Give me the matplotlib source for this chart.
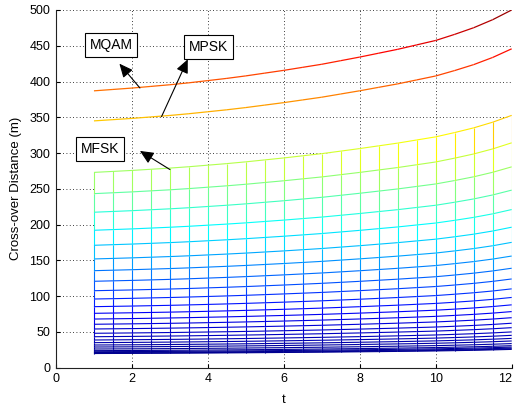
import matplotlib
matplotlib.use("Agg")
import matplotlib.pyplot as plt
import numpy as np
from matplotlib.collections import LineCollection
from matplotlib.colors import Normalize, LinearSegmentedColormap

plt.rcParams['font.family'] = ['Liberation Sans', 'DejaVu Sans']

# --- data ---
t = [1, 1.5, 2, 2.5, 3, 3.5, 4, 4.5, 5, 5.5, 6, 6.5,
     7, 7.5, 8, 8.5, 9, 9.5, 10, 10.5, 11, 11.5, 12]
# relative growth of the distance with t (same for all schemes)
growth = [1.000, 1.005, 1.010, 1.016, 1.022, 1.029, 1.037, 1.045, 1.054,
          1.064, 1.074, 1.085, 1.096, 1.109, 1.122, 1.136, 1.150, 1.166,
          1.182, 1.204, 1.228, 1.257, 1.292]
mqam_t1 = 387.0
mpsk_t1 = 345.0
# MFSK mesh rows, value at t = 1 (top to bottom)
mfsk_t1 = [273.0, 243.3, 217.3, 192.1, 171.1, 152.0, 135.6, 120.8, 107.6,
           96.0, 85.3, 76.0, 68.0, 60.7, 54.1, 48.1, 43.3, 38.7, 35.0,
           31.7, 28.9, 26.1, 23.8, 22.3, 21.2, 20.4, 19.8]

tt = np.array(t)
gg = np.array(growth)
mqam = mqam_t1 * gg
mpsk = mpsk_t1 * gg
Z = np.outer(mfsk_t1, gg)

# matlab flavoured jet
cmap = LinearSegmentedColormap.from_list('mjet', [
    (0.0, (0, 0, 0.56)), (0.125, (0, 0, 1)), (0.375, (0, 1, 1)),
    (0.625, (1, 1, 0)), (0.875, (1, 0, 0)), (1.0, (0.5, 0, 0))])
norm = Normalize(vmin=Z.min(), vmax=500)

fig = plt.figure(figsize=(5.16, 4.08), dpi=100)
ax = fig.add_axes([0.1085, 0.0988, 0.8831, 0.8767])

# grid first (dotted, matlab style)
ax.set_axisbelow(True)
ax.grid(True, color='black', linestyle=(0, (1, 3)), linewidth=0.6)

# white faces of the mesh hide the grid
ax.fill_between(tt, Z[-1], Z[0], color='white', zorder=1.5, lw=0)

segs, vals = [], []
for i in range(Z.shape[0]):
    for j in range(len(tt) - 1):
        segs.append([(tt[j], Z[i, j]), (tt[j + 1], Z[i, j + 1])])
        vals.append(Z[i, j])
for j in range(len(tt)):
    for i in range(Z.shape[0] - 1):
        segs.append([(tt[j], Z[i, j]), (tt[j], Z[i + 1, j])])
        vals.append(Z[i, j])
lc = LineCollection(segs, colors=cmap(norm(np.array(vals))), linewidths=0.8, zorder=2)
ax.add_collection(lc)

for curve in (mqam, mpsk):
    s = [[(tt[j], curve[j]), (tt[j + 1], curve[j + 1])] for j in range(len(tt) - 1)]
    ax.add_collection(LineCollection(s, colors=cmap(norm(curve[:-1])),
                                     linewidths=0.9, zorder=3))

# labels with arrows
box = dict(boxstyle='square,pad=0.35', fc='white', ec='black', lw=0.8)
arrow = dict(arrowstyle='-|>,head_length=0.55,head_width=0.25', color='black',
             lw=0.8, mutation_scale=15, shrinkA=0, shrinkB=0)
ax.text(1.45, 451, 'MQAM', ha='center', va='center', fontsize=10, bbox=box, zorder=5)
ax.text(4.02, 448, 'MPSK', ha='center', va='center', fontsize=10, bbox=box, zorder=5)
ax.text(1.15, 306, 'MFSK', ha='center', va='center', fontsize=10, bbox=box, zorder=5)
ax.annotate('', xy=(1.67, 425), xytext=(2.21, 391), arrowprops=arrow, zorder=5)
ax.annotate('', xy=(3.47, 431), xytext=(2.78, 351), arrowprops=arrow, zorder=5)
ax.annotate('', xy=(2.21, 303), xytext=(3.0, 277), arrowprops=arrow, zorder=5)

ax.set_xlim(0, 12)
ax.set_ylim(0, 500)
ax.set_xticks(range(0, 13, 2))
ax.set_yticks(range(0, 501, 50))
ax.tick_params(direction='in', length=3, labelsize=9, pad=4)
# last x label would run off the figure edge
ax.get_xticklabels()[-1].set_horizontalalignment('right')
for side in ('top', 'right'):
    ax.spines[side].set_visible(False)
for side in ('left', 'bottom'):
    ax.spines[side].set_color('#222222')
ax.set_xlabel('t', fontsize=9.5, labelpad=6)
ax.set_ylabel('Cross-over Distance (m)', fontsize=9.5, labelpad=5)

fig.savefig('out.png', dpi=100)
